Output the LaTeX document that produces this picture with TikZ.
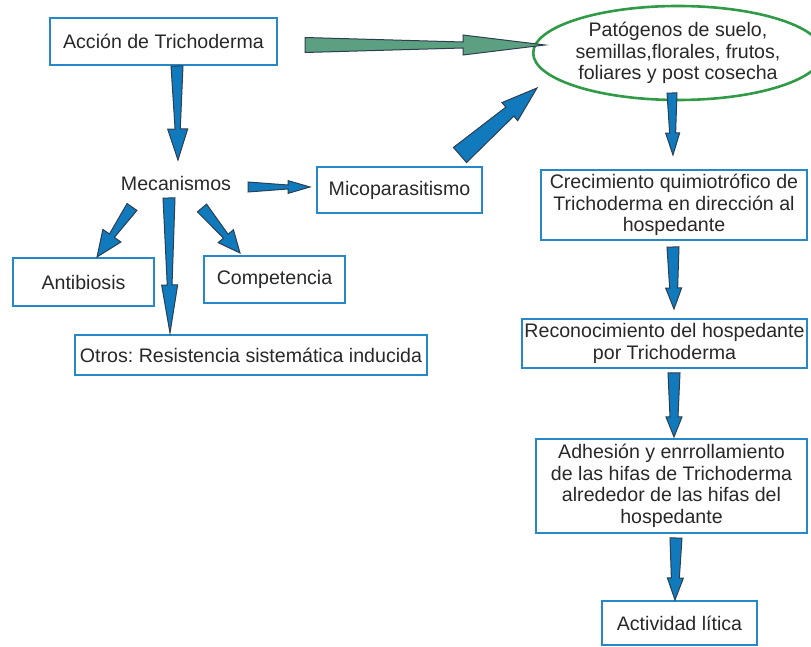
\documentclass[tikz,border=0pt]{standalone}
\usepackage{fontspec}
\setmainfont{Liberation Sans}
\frenchspacing
\usetikzlibrary{calc, shapes.geometric}

\definecolor{boxblue}{RGB}{38,136,198}
\definecolor{arrowblue}{RGB}{16,122,188}
\definecolor{arrowline}{RGB}{45,62,80}
\definecolor{arrowgreen}{RGB}{92,160,130}
\definecolor{ovalgreen}{RGB}{48,154,70}
\definecolor{textgray}{RGB}{40,40,40}

\tikzset{
	box/.style={draw=boxblue, line width=1.3pt, inner sep=0pt, align=center, text=textgray},
	oval/.style={ellipse, draw=ovalgreen, line width=1.3pt, inner sep=0pt, align=center, text=textgray},
	plain/.style={inner sep=0pt, text=textgray}
}

% block arrow: [fill]{tail}{tip}{tail half width}{neck half width}{head half width}{head length}
\newcommand{\blockarrow}[7][arrowblue]{%
	\coordinate (hb) at ($(#3)!#7!(#2)$);
	\filldraw[fill=#1, draw=arrowline, line width=0.5pt, line join=miter]
		($(#2)!#4!90:(#3)$) -- ($(hb)!#5!90:(#3)$) -- ($(hb)!#6!90:(#3)$) -- (#3)
		-- ($(hb)!#6!-90:(#3)$) -- ($(hb)!#5!-90:(#3)$) -- ($(#2)!#4!-90:(#3)$) -- cycle;
}

\begin{document}
\begin{tikzpicture}[x=0.5pt, y=-0.5pt, font=\fontsize{9.8}{10.8}\selectfont]
	\useasboundingbox (0,0) rectangle (811,647);

	\node[box, minimum width=113.5pt, minimum height=23.5pt] (accion) at (163.5,41.5) {Acción de Trichoderma};
	\node[oval, minimum width=131pt, minimum height=47pt] (patogenos) at (678,53) {Patógenos de suelo,\\semillas,florales, frutos,\\foliares y post cosecha};
	\node[plain] (mecanismos) at (176,183) {Mecanismos};
	\node[box, minimum width=82.5pt, minimum height=23pt] (micopar) at (399.5,190) {Micoparasitismo};
	\node[box, minimum width=70.5pt, minimum height=24pt] (antibiosis) at (83.5,282) {Antibiosis};
	\node[box, minimum width=70.5pt, minimum height=23.5pt] (competencia) at (274.5,279.5) {Competencia};
	\node[box, minimum width=176pt, minimum height=20pt] (otros) at (251,355) {Otros: Resistencia sistemática inducida};
	\node[box, minimum width=133pt, minimum height=35pt] (crecimiento) at (674,205) {Crecimiento quimiotrófico de\\Trichoderma en dirección al\\hospedante};
	\node[box, minimum width=142.5pt, minimum height=24.5pt] (reconoc) at (664.5,343.5) {Reconocimiento del hospedante\\por Trichoderma};
	\node[box, minimum width=135.5pt, minimum height=47pt] (adhesion) at (671.5,486) {Adhesión y enrrollamiento\\de las hifas de Trichoderma\\alrededor de las hifas del\\hospedante};
	\node[box, minimum width=77.5pt, minimum height=22pt] (actividad) at (679.5,623) {Actividad lítica};

	\coordinate (accion-t) at (305,45);
	\coordinate (patogenos-h) at (545,45);
	\coordinate (accion-b) at (177,66);
	\coordinate (mecanismos-h) at (178,160);
	\coordinate (mecanismos-r) at (248,187);
	\coordinate (micopar-h) at (310,187);
	\coordinate (mecanismos-bl) at (132,207);
	\coordinate (antibiosis-h) at (97,257);
	\coordinate (mecanismos-b) at (169,198);
	\coordinate (otros-h) at (170,333);
	\coordinate (mecanismos-br) at (202,208);
	\coordinate (competencia-h) at (240,253);
	\coordinate (micopar-t) at (460,155);
	\coordinate (patogenos-hl) at (537,88);
	\coordinate (patogenos-b) at (672,93);
	\coordinate (crecimiento-h) at (673,155);
	\coordinate (crecimiento-b) at (673,247);
	\coordinate (reconoc-h) at (674,309);
	\coordinate (reconoc-b) at (674,373);
	\coordinate (adhesion-h) at (674,437);
	\coordinate (adhesion-b) at (676,538);
	\coordinate (actividad-h) at (675,600);

	\blockarrow[arrowgreen]{accion-t}{patogenos-h}{3.75pt}{1.5pt}{5pt}{41pt}
	\blockarrow{accion-b}{mecanismos-h}{3pt}{1.3pt}{5pt}{15.5pt}
	\blockarrow{mecanismos-r}{micopar-h}{2.5pt}{1pt}{3.2pt}{11pt}
	\blockarrow{mecanismos-bl}{antibiosis-h}{3pt}{1.5pt}{5.5pt}{13pt}
	\blockarrow{mecanismos-b}{otros-h}{3pt}{1.2pt}{4pt}{24pt}
	\blockarrow{mecanismos-br}{competencia-h}{3pt}{1.5pt}{5pt}{11pt}
	\blockarrow{micopar-t}{patogenos-hl}{5pt}{3pt}{6pt}{18pt}
	\blockarrow{patogenos-b}{crecimiento-h}{2.5pt}{1.5pt}{3.5pt}{11pt}
	\blockarrow{crecimiento-b}{reconoc-h}{3pt}{2pt}{4pt}{10.5pt}
	\blockarrow{reconoc-b}{adhesion-h}{3pt}{2pt}{4pt}{10pt}
	\blockarrow{adhesion-b}{actividad-h}{3pt}{2pt}{4pt}{11pt}
\end{tikzpicture}
\end{document}
